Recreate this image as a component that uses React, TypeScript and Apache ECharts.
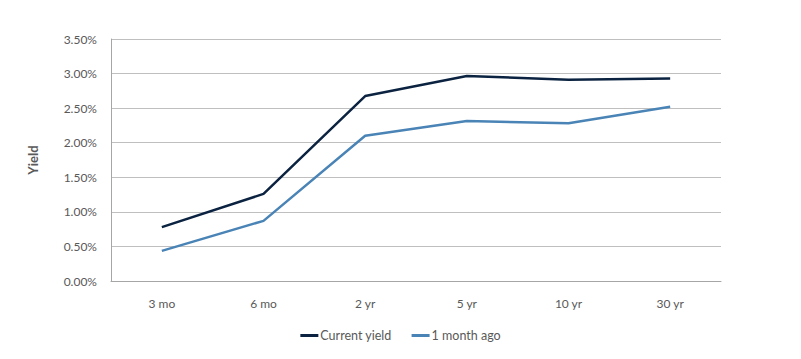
import React, { useEffect, useRef } from "react";
import * as echarts from "echarts";

const categories = ["3 mo", "6 mo", "2 yr", "5 yr", "10 yr", "30 yr"];
const currentYield = [0.78, 1.26, 2.675, 2.965, 2.91, 2.93];
const monthAgo = [0.435, 0.87, 2.1, 2.315, 2.28, 2.52];
const seriesNames = ["Current yield", "1 month ago"];

export default function App() {
  const ref = useRef<HTMLDivElement>(null);
  useEffect(() => {
    if (!ref.current) return;
    const chart = echarts.init(ref.current, undefined, { renderer: "svg" });
    const font = "Lato, 'Open Sans', sans-serif";
    chart.setOption({
      animation: false,
      textStyle: { fontFamily: font },
      grid: { left: 111, right: 80, top: 39, bottom: 78 },
      legend: {
        bottom: 12,
        left: "center",
        itemWidth: 18,
        itemHeight: 3,
        itemGap: 20,
        icon: "rect",
        textStyle: { color: "#595959", fontSize: 12.5, fontFamily: font, padding: [0, 0, 0, -3] },
        data: seriesNames,
      },
      xAxis: {
        type: "category",
        data: categories,
        boundaryGap: true,
        axisLine: { lineStyle: { color: "#a6a6a6", width: 1 } },
        axisTick: { show: false },
        axisLabel: { color: "#595959", fontSize: 12, margin: 16, fontFamily: font },
      },
      yAxis: {
        type: "value",
        min: 0,
        max: 3.5,
        interval: 0.5,
        name: "Yield",
        nameLocation: "middle",
        nameGap: 72,
        nameTextStyle: { color: "#595959", fontWeight: "bold", fontSize: 13, fontFamily: font },
        axisLine: { show: true, lineStyle: { color: "#a6a6a6", width: 1 } },
        axisTick: { show: false },
        splitLine: { lineStyle: { color: "#bfbfbf", width: 1 } },
        axisLabel: {
          color: "#595959",
          fontSize: 12,
          margin: 14,
          fontFamily: font,
          formatter: (v: number) => v.toFixed(2) + "%",
        },
      },
      series: [
        {
          name: seriesNames[0],
          type: "line",
          data: currentYield,
          symbol: "none",
          lineStyle: { color: "#0b2341", width: 2.5 },
          itemStyle: { color: "#0b2341" },
        },
        {
          name: seriesNames[1],
          type: "line",
          data: monthAgo,
          symbol: "none",
          lineStyle: { color: "#4a84b6", width: 2.5 },
          itemStyle: { color: "#4a84b6" },
        },
      ],
    });
    return () => chart.dispose();
  }, []);
  return <div ref={ref} style={{ width: 801, height: 359, position: "absolute", left: 0, top: 0 }} />;
}
